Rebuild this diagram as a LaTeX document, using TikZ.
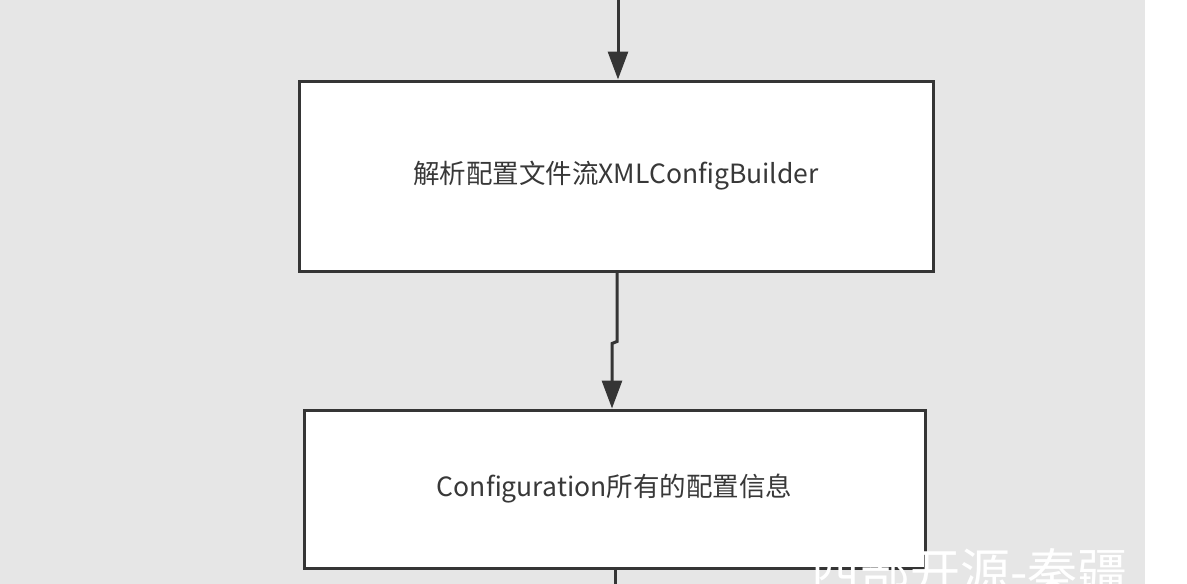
\documentclass[tikz,border=0pt]{standalone}
\usepackage{fontspec}
\setmainfont{Noto Sans CJK SC}
\usetikzlibrary{arrows.meta}
\definecolor{sfondo}{HTML}{E6E6E6}
\definecolor{linea}{HTML}{353535}
\tikzset{
  procbox/.style={draw=linea, line width=3pt, fill=white, text=black!78, font=\fontsize{26.5}{30}\selectfont},
  flowline/.style={draw=linea, line width=3pt, -{Triangle[length=28pt,width=20pt]}}
}
\begin{document}
\begin{tikzpicture}[x=1pt,y=-1pt]
        % Area del disegno
        \useasboundingbox (0,0) rectangle (1187,584);
        \fill[white] (0,0) rectangle (1187,584);
        \fill[sfondo] (0,0) rectangle (1145,584); % Sfondo grigio

        % Blocchi
        \node[procbox, minimum width=634pt, minimum height=190pt] (parse) at (616,176) {解析配置文件流XMLConfigBuilder};
        \node[procbox, minimum width=621pt, minimum height=158pt] (config) at (614.5,489) {Configuration所有的配置信息};

        % Estremi liberi
        \coordinate (top) at (618,0);
        \coordinate (bottom) at (615,584);

        % Frecce
        \draw[flowline] (top) -- (top |- parse.north);
        \draw[flowline] ([xshift=1pt]parse.south) -- ++(0,69) -- ++(-5,2) -- ([xshift=-2.5pt]config.north);
        \draw[draw=linea, line width=3pt] (config.south -| bottom) -- (bottom); % Linea verso il basso

        % Filigrana
        \begin{scope}
          \clip (0,0) rectangle (1187,584);
          \node[anchor=base west, inner sep=0pt, text=white, font=\fontsize{50}{50}\selectfont] (mark) at (810,590) {西部开源-秦疆};
        \end{scope}
    \end{tikzpicture}
\end{document}
